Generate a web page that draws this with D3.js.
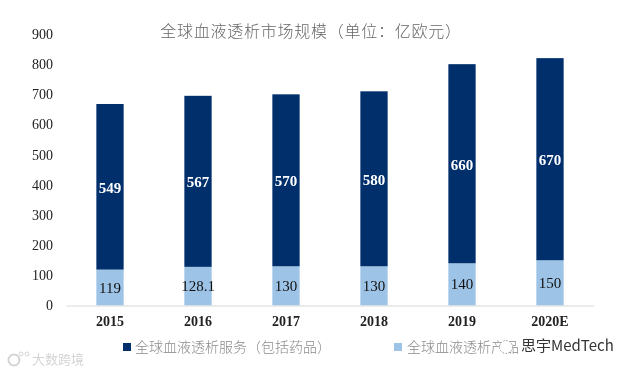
<!DOCTYPE html>
<html>
<head>
<meta charset="utf-8">
<script src="https://d3js.org/d3.v7.min.js"></script>
<style>
  html, body { margin: 0; padding: 0; background: #fff; }
  svg { display: block; filter: blur(0.35px); }
</style>
</head>
<body>
<div id="chart"></div>
<script>
// Global dialysis market size, stacked by services and products
const years = ['2015', '2016', '2017', '2018', '2019', '2020E'];
const productValues = [119, 128.1, 130, 130, 140, 150];
const serviceValues = [549, 567, 570, 580, 660, 670];
const yTicks = [0, 100, 200, 300, 400, 500, 600, 700, 800, 900];

const titleText = '全球血液透析市场规模（单位：亿欧元）';
const serviceName = '全球血液透析服务（包括药品）';
const productName = '全球血液透析产品';

const width = 633, height = 372;
const serif = '"Liberation Serif", serif';
const cjk = '"Noto Sans CJK SC", sans-serif';

const svg = d3.select('#chart').append('svg').attr('width', width).attr('height', height);

const x = d3.scaleBand().domain(years).range([66, 594]).paddingInner(0.69).paddingOuter(0.345);
const y = d3.scaleLinear().domain([0, 900]).range([305.5, 34]);

// bars
const g = svg.append('g');
g.selectAll('rect.product')
  .data(years)
  .enter()
  .append('rect')
  .attr('class', 'product')
  .attr('x', d => x(d))
  .attr('width', x.bandwidth())
  .attr('y', (d, i) => y(productValues[i]))
  .attr('height', (d, i) => y(0) - y(productValues[i]))
  .attr('fill', '#9dc3e6');

g.selectAll('rect.service')
  .data(years)
  .enter()
  .append('rect')
  .attr('class', 'service')
  .attr('x', d => x(d))
  .attr('width', x.bandwidth())
  .attr('y', (d, i) => y(productValues[i] + serviceValues[i]))
  .attr('height', (d, i) => y(productValues[i]) - y(productValues[i] + serviceValues[i]))
  .attr('fill', '#002f6c');

// value labels
g.selectAll('text.productLabel')
  .data(years)
  .enter()
  .append('text')
  .attr('class', 'productLabel')
  .attr('x', d => x(d) + x.bandwidth() / 2)
  .attr('y', (d, i) => y(productValues[i] / 2) + 5)
  .attr('text-anchor', 'middle')
  .style('font', `15px ${serif}`)
  .attr('fill', '#111')
  .text((d, i) => productValues[i]);

g.selectAll('text.serviceLabel')
  .data(years)
  .enter()
  .append('text')
  .attr('class', 'serviceLabel')
  .attr('x', d => x(d) + x.bandwidth() / 2)
  .attr('y', (d, i) => y(productValues[i] + serviceValues[i] / 2) + 6)
  .attr('text-anchor', 'middle')
  .style('font', `bold 15px ${serif}`)
  .attr('fill', '#fff')
  .text((d, i) => serviceValues[i]);

// axes
const xAxis = svg.append('g')
  .attr('transform', `translate(0,${y(0)})`)
  .call(d3.axisBottom(x).tickSize(0).tickPadding(11));
xAxis.select('.domain').attr('stroke', '#d9d9d9');
xAxis.selectAll('text').style('font', `bold 14px ${serif}`).attr('fill', '#222');

const yAxis = svg.append('g')
  .attr('transform', 'translate(53,0)')
  .call(d3.axisLeft(y).tickValues(yTicks).tickSize(0).tickPadding(0));
yAxis.select('.domain').remove();
yAxis.selectAll('text').style('font', `14px ${serif}`).attr('fill', '#222');

// title
svg.append('text')
  .attr('x', 311).attr('y', 37)
  .attr('text-anchor', 'middle')
  .style('font', `300 16px ${cjk}`)
  .style('letter-spacing', '0.75px')
  .attr('fill', '#666')
  .text(titleText);

// legend
const legendItems = [
  { name: serviceName, color: '#002f6c', sx: 123, tx: 135 },
  { name: productName, color: '#9dc3e6', sx: 394, tx: 407 }
];
legendItems.forEach(d => {
  svg.append('rect').attr('x', d.sx).attr('y', 343).attr('width', 8).attr('height', 8).attr('fill', d.color);
  svg.append('text').attr('x', d.tx).attr('y', 352)
    .style('font', `300 14px ${cjk}`)
    .attr('fill', '#8a8a8a')
    .text(d.name);
});

// watermarks sitting on top of the picture
svg.append('circle').attr('cx', 506).attr('cy', 347).attr('r', 6.5)
  .attr('fill', '#fff').attr('stroke', '#999').attr('stroke-dasharray', '1.5 1.5');
svg.append('text').attr('x', 521).attr('y', 351)
  .style('font', `15px ${cjk}`)
  .attr('fill', '#333')
  .text('思宇MedTech');
svg.append('text').attr('x', 32).attr('y', 364)
  .style('font', `13px ${cjk}`)
  .attr('fill', '#d4d4d4')
  .text('大数跨境');
svg.append('circle').attr('cx', 14).attr('cy', 360).attr('r', 5.5)
  .attr('fill', 'none').attr('stroke', '#d4d4d4').attr('stroke-width', 2);
svg.append('circle').attr('cx', 21).attr('cy', 354).attr('r', 2)
  .attr('fill', 'none').attr('stroke', '#d4d4d4');
svg.append('circle').attr('cx', 27).attr('cy', 354).attr('r', 2)
  .attr('fill', 'none').attr('stroke', '#d4d4d4');
</script>
</body>
</html>
